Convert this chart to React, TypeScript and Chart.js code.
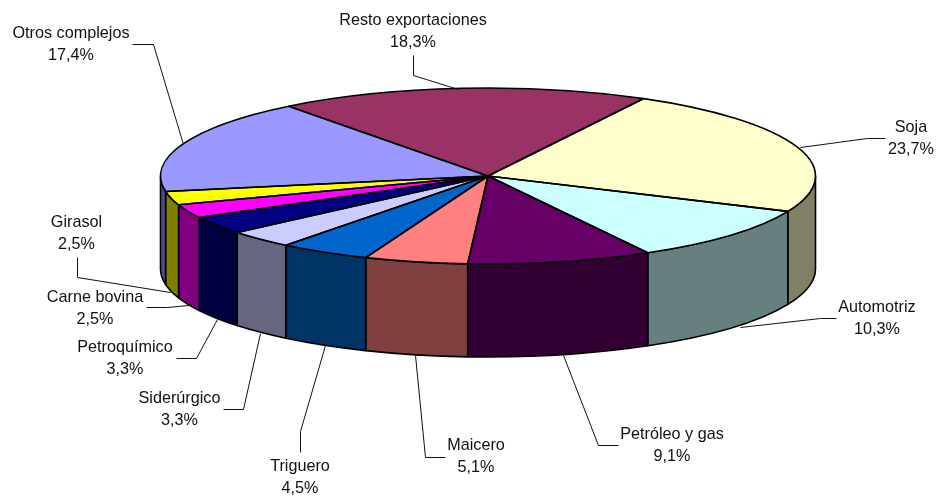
import React, { useEffect, useRef } from "react";
import { Chart, registerables } from "chart.js";

Chart.register(...registerables);

const categories = ["Soja", "Automotriz", "Petróleo y gas", "Maicero", "Triguero", "Siderúrgico", "Petroquímico", "Carne bovina", "Girasol", "Otros complejos", "Resto exportaciones"];
const shares = [23.7, 10.3, 9.1, 5.1, 4.5, 3.3, 3.3, 2.5, 2.5, 17.4, 18.3];
const topColors = ["#FFFFCC", "#CCFFFF", "#660066", "#FF8080", "#0066CC", "#CCCCFF", "#000080", "#FF00FF", "#FFFF00", "#9999FF", "#993366"];
const sideColors = ["#808066", "#668080", "#330033", "#804040", "#003366", "#666680", "#000040", "#800080", "#808000", "#4D4D80", "#4D1A33"];

// Layout of the flat 3D projection
const CX = 488;
const CY = 176;
const RX = 327.5;
const RY = 88;
const DEPTH = 93;
const ROTATION = 28.4;
const FONT = '16.2px "Liberation Sans"';

// Label layout: text centre, first-line y, leader polyline
const labelLayout: { x: number; y: number; line: number[][] }[] = [
  { x: 911, y: 128, line: [[800, 147], [867, 138], [885, 138]] },
  { x: 877, y: 308, line: [[740, 327], [820, 318], [836, 318]] },
  { x: 672, y: 435, line: [[563, 355], [598, 445], [618, 445]] },
  { x: 476, y: 446, line: [[415, 355], [425, 457], [445, 457]] },
  { x: 300, y: 467, line: [[325, 345], [300, 431], [300, 452]] },
  { x: 179.5, y: 399, line: [[260, 333], [243, 409], [223, 409]] },
  { x: 125, y: 348, line: [[217, 319], [196, 358], [176, 358]] },
  { x: 95, y: 298, line: [[188, 305], [167, 307], [146, 307]] },
  { x: 76.5, y: 223, line: [[170, 292], [77, 277], [77, 257]] },
  { x: 71, y: 34, line: [[183, 144], [153, 44], [132, 44]] },
  { x: 413, y: 21, line: [[458, 89], [413, 75], [413, 55]] },
];

const pie3d = {
  id: "pie3d",
  beforeDatasetsDraw(chart: any) {
    const ctx = chart.ctx;
    const arcs = chart.getDatasetMeta(0).data;
    ctx.save();
    ctx.strokeStyle = "#000";
    ctx.lineWidth = 1.6;
    ctx.lineJoin = "round";
    arcs.forEach((arc: any, i: number) => {
      for (let k = -1; k <= 1; k++) {
        const a = Math.max(arc.startAngle, k * 2 * Math.PI);
        const b = Math.min(arc.endAngle, k * 2 * Math.PI + Math.PI);
        if (b <= a) continue;
        ctx.beginPath();
        ctx.ellipse(CX, CY, RX, RY, 0, a, b, false);
        ctx.lineTo(CX + RX * Math.cos(b), CY + DEPTH + RY * Math.sin(b));
        ctx.ellipse(CX, CY + DEPTH, RX, RY, 0, b, a, true);
        ctx.closePath();
        ctx.fillStyle = sideColors[i];
        ctx.fill();
        ctx.stroke();
      }
    });
    ctx.restore();
  },
  beforeDatasetDraw(chart: any) {
    const ctx = chart.ctx;
    const arc = chart.getDatasetMeta(0).data[0];
    const r = arc.outerRadius;
    ctx.save();
    ctx.translate(CX, CY);
    ctx.scale(RX / r, RY / r);
    ctx.translate(-arc.x, -arc.y);
  },
  afterDatasetDraw(chart: any) {
    chart.ctx.restore();
  },
  afterDatasetsDraw(chart: any) {
    const ctx = chart.ctx;
    const arcs = chart.getDatasetMeta(0).data;
    ctx.save();
    ctx.strokeStyle = "#000";
    ctx.lineWidth = 1.6;
    ctx.lineJoin = "round";
    arcs.forEach((arc: any) => {
      ctx.beginPath();
      ctx.moveTo(CX, CY);
      ctx.ellipse(CX, CY, RX, RY, 0, arc.startAngle, arc.endAngle, false);
      ctx.closePath();
      ctx.stroke();
    });
    ctx.restore();
  },
  afterDraw(chart: any) {
    const ctx = chart.ctx;
    ctx.save();
    ctx.font = FONT;
    ctx.textAlign = "center";
    ctx.textBaseline = "middle";
    ctx.lineWidth = 1;
    ctx.strokeStyle = "#111";
    ctx.fillStyle = "#111";
    labelLayout.forEach((l, i) => {
      ctx.beginPath();
      l.line.forEach(([x, y], j) => (j ? ctx.lineTo(x + 0.5, y + 0.5) : ctx.moveTo(x + 0.5, y + 0.5)));
      ctx.stroke();
      ctx.fillText(categories[i], l.x, l.y);
      ctx.fillText(shares[i].toFixed(1).replace(".", ",") + "%", l.x, l.y + 21.5);
    });
    ctx.restore();
  },
};

export default function App() {
  const ref = useRef<HTMLCanvasElement>(null);
  useEffect(() => {
    document.body.style.margin = "0";
    document.body.style.background = "#fff";
    const chart = new Chart(ref.current!, {
      type: "pie",
      data: {
        labels: categories,
        datasets: [{ data: shares, backgroundColor: topColors, borderWidth: 0 }],
      },
      options: {
        responsive: false,
        animation: false,
        rotation: ROTATION,
        layout: { padding: 20 },
        plugins: { legend: { display: false }, tooltip: { enabled: false } },
      },
      plugins: [pie3d],
    } as any);
    return () => chart.destroy();
  }, []);
  return (
    <div style={{ position: "absolute", left: 0, top: 0, width: 937, height: 497 }}>
      <canvas ref={ref} width={937} height={497} style={{ display: "block" }} />
    </div>
  );
}
